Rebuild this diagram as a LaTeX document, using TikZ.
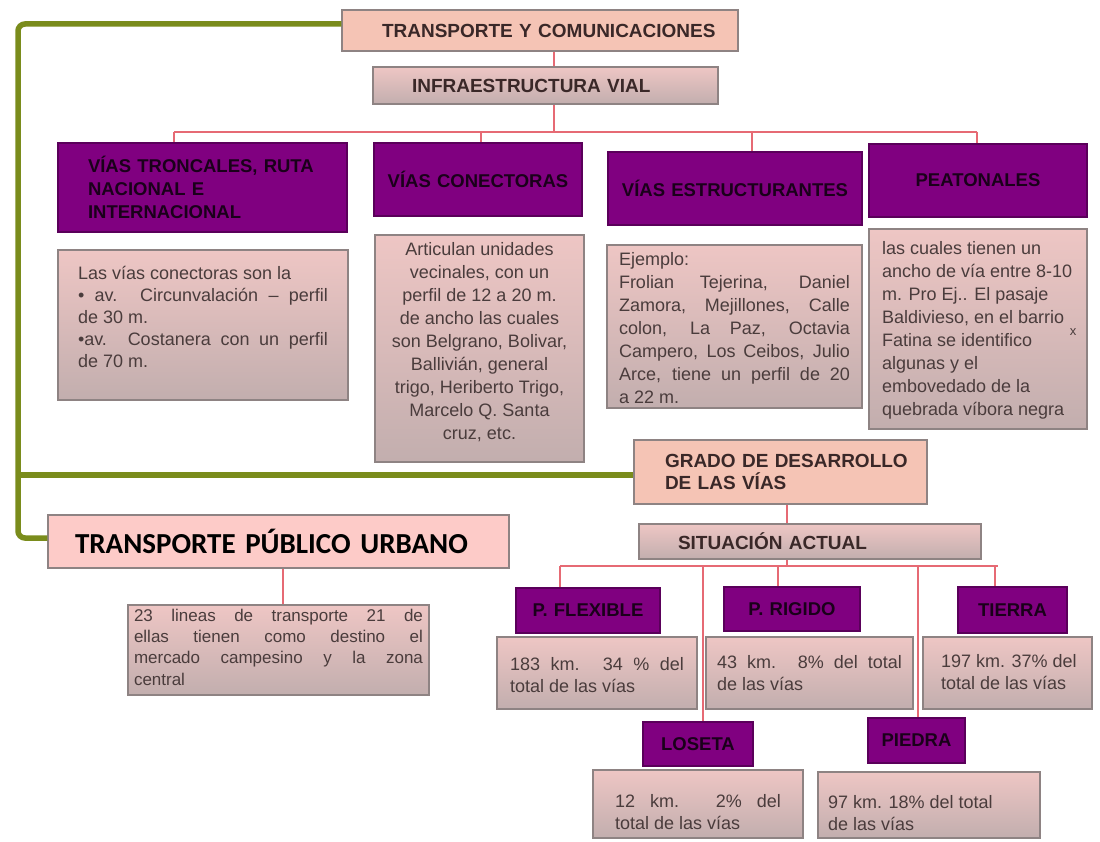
\documentclass[tikz,border=0pt]{standalone}
\usepackage{fontspec}
\setmainfont{Liberation Sans}
\newfontfamily\carlito{Carlito}
\definecolor{salmon}{HTML}{F5C4B5}
\definecolor{salmonp}{HTML}{FDCBC8}
\definecolor{bordc}{HTML}{8E8383}
\definecolor{gtop}{HTML}{EEC6C4}
\definecolor{gbot}{HTML}{C2AEAE}
\definecolor{purpc}{HTML}{800080}
\definecolor{purpd}{HTML}{5A005A}
\definecolor{ptxt}{HTML}{1A001A}
\definecolor{ttxt}{HTML}{3A2828}
\definecolor{bodytxt}{HTML}{4A3C3C}
\definecolor{redc}{HTML}{E66A74}
\definecolor{greenc}{HTML}{7A8C1C}
\newcommand\bfnt[2]{\fontsize{#1}{#2}\selectfont\hyphenpenalty10000 \exhyphenpenalty10000 }
\tikzset{
  boxbase/.style={rectangle, draw=bordc, line width=1.3pt},
  salm/.style={boxbase, fill=salmon, text=ttxt, font=\bfseries\fontsize{19}{22.5}\selectfont},
  salmp/.style={boxbase, fill=salmonp, text=black, font=\carlito\bfseries\fontsize{29}{31}\selectfont},
  grad/.style={boxbase, top color=gtop, bottom color=gbot, text=bodytxt},
  gradt/.style={grad, text=ttxt, font=\bfseries\fontsize{19}{22.5}\selectfont},
  purp/.style={rectangle, draw=purpd, line width=1.3pt, fill=purpc, font=\bfseries\fontsize{18.5}{23}\selectfont\color{ptxt}},
  rline/.style={draw=redc, line width=1.6pt},
  gline/.style={draw=greenc, line width=5.5pt, rounded corners=7pt},
}
% name, style, x1, y1, x2, y2, padx, text
\newcommand\mkbox[8]{%
  \pgfmathsetmacro\bw{#5-#3}\pgfmathsetmacro\bh{#6-#4}\pgfmathsetmacro\tw{#5-#3-2*#7}%
  \node[#2, minimum width=\bw pt, minimum height=\bh pt, text width=\tw pt, inner xsep=#7pt, inner ysep=0pt] (#1) at ({(#3+#5)/2},{(#4+#6)/2}) {#8};}
% name, x1, y1, x2, y2, padx, padtop, format, text
\newcommand\mktext[9]{%
  \pgfmathsetmacro\bw{#4-#2}\pgfmathsetmacro\bh{#5-#3}\pgfmathsetmacro\tw{#4-#2-2*#6}%
  \node[grad, minimum width=\bw pt, minimum height=\bh pt, inner sep=0pt] (#1) at ({(#2+#4)/2},{(#3+#5)/2}) {\parbox[c][\bh pt][t]{\tw pt}{\vspace*{#7pt}#8#9}};}
\begin{document}
\begin{tikzpicture}[x=1pt,y=-1pt]
\fill[white] (0,0) rectangle (1100,842);
\useasboundingbox (0,0) rectangle (1100,842);

% title boxes
\mkbox{tyc}{salm, align=left}{342}{10}{738}{51}{40}{\mbox{TRANSPORTE Y COMUNICACIONES}}
\mkbox{infra}{gradt, align=left}{373}{67}{718}{104}{39}{\mbox{INFRAESTRUCTURA VIAL}}

% purple headings
\mkbox{p1}{purp, align=left}{58}{143}{347}{232}{30}{\mbox{VÍAS TRONCALES, RUTA}\\ \mbox{NACIONAL E}\\ \mbox{INTERNACIONAL}}
\mkbox{p2}{purp, align=center}{374}{143}{582}{216}{8}{\mbox{VÍAS CONECTORAS}}
\mkbox{p3}{purp, align=center}{608}{152}{862}{225}{8}{\mbox{VÍAS ESTRUCTURANTES}}
\mkbox{p4}{purp, align=center}{869}{144}{1087}{217}{8}{\mbox{PEATONALES}}

% description boxes
\mktext{t1}{58}{250}{348}{400}{20}{16}{\bfnt{18}{22}}{Las vías conectoras son la\\ • av. Circunvalación – perfil\linebreak de 30 m.\\ •av. Costanera con un perfil\linebreak de 70 m.}
\mktext{t2}{375}{235}{584}{462}{10}{7}{\bfnt{18}{23}\centering}{Articulan unidades\\ vecinales, con un\\ perfil de 12 a 20 m.\\ de ancho las cuales\\ son Belgrano, Bolivar,\\ Ballivián, general\\ trigo, Heriberto Trigo,\\ Marcelo Q. Santa\\ cruz, etc.}
\mktext{t3}{607}{245}{862}{408}{12}{7}{\bfnt{18}{23}}{Ejemplo:\\ Frolian Tejerina, Daniel\linebreak Zamora, Mejillones, Calle\linebreak colon, La Paz, Octavia\linebreak Campero, Los Ceibos, Julio\linebreak Arce, tiene un perfil de 20\linebreak a 22 m.}
\mktext{t4}{869}{229}{1087}{429}{13}{12}{\bfnt{18}{23}\raggedright}{las cuales tienen un\\ ancho de vía entre 8-10\\ m. Pro Ej.. El pasaje\\ Baldivieso, en el barrio\\ Fatina se identifico\\ algunas y el\\ embovedado de la\\ quebrada víbora negra}
\node[text=bodytxt, font=\fontsize{13}{13}\selectfont, inner sep=0pt] (xm) at (1073,332) {x};

% lower part
\mkbox{grado}{salm, align=left}{634}{440}{927}{504}{31}{\mbox{GRADO DE DESARROLLO}\\ \mbox{DE LAS VÍAS}}
\mkbox{sit}{gradt, align=left}{639}{524}{981}{559}{39}{\mbox{SITUACIÓN ACTUAL}}
\mkbox{tpu}{salmp, align=left}{48}{515}{509}{568}{27}{\mbox{TRANSPORTE PÚBLICO URBANO}}
\mktext{tt}{128}{605}{429}{695}{6}{4}{\bfnt{17}{21.3}}{23 lineas de transporte 21 de\linebreak ellas tienen como destino el\linebreak mercado campesino y la zona\linebreak central}

\mkbox{pf}{purp, align=center}{516}{588}{660}{633}{4}{\mbox{P. FLEXIBLE}}
\mkbox{pr}{purp, align=center}{724}{587}{860}{631}{4}{\mbox{P. RIGIDO}}
\mkbox{pt}{purp, align=center}{958}{587}{1067}{633}{4}{\mbox{TIERRA}}
\mkbox{pl}{purp, align=center}{643}{722}{753}{766}{4}{\mbox{LOSETA}}
\mkbox{pp}{purp, align=center}{868}{718}{965}{763}{4}{\mbox{PIEDRA}}

\mktext{b1}{497}{637}{697}{709}{13}{20}{\bfnt{18}{22}}{183 km. 34 \% del\linebreak total de las vías}
\mktext{b2}{706}{637}{913}{709}{11}{18}{\bfnt{18}{22}}{43 km. 8\% del total\linebreak de las vías}
\mktext{b3}{923}{637}{1092}{709}{18}{17}{\bfnt{18}{22}\raggedright}{\mbox{197 km. 37\% del}\\ \mbox{total de las vías}}
\mktext{b4}{593}{770}{803}{838}{22}{24}{\bfnt{18}{22}}{12 km. 2\% del\linebreak total de las vías}
\mktext{b5}{818}{772}{1040}{838}{10}{23}{\bfnt{18}{22}\raggedright}{97 km. 18\% del total\\ de las vías}

% red connectors (upper)
\coordinate (cx1) at (554,0);
\coordinate (bl) at (174,132);
\coordinate (bm1) at (481,132);
\coordinate (bm2) at (752,132);
\coordinate (br) at (977,132);
\draw[rline] (cx1 |- tyc.south) -- (cx1 |- infra.north);
\draw[rline] (cx1 |- infra.south) -- (cx1 |- bl);
\draw[rline] (bl) -- (br);
\draw[rline] (bl) -- (bl |- p1.north);
\draw[rline] (bm1) -- (bm1 |- p2.north);
\draw[rline] (bm2) -- (bm2 |- p3.north);
\draw[rline] (br) -- (br |- p4.north);

% red connectors (lower)
\coordinate (cx2) at (787,0);
\coordinate (sl) at (560,566);
\coordinate (s2) at (703,566);
\coordinate (s3) at (778,566);
\coordinate (s4) at (918,566);
\coordinate (s5) at (995,566);
\coordinate (sr) at (998,566);
\draw[rline] (cx2 |- grado.south) -- (cx2 |- sit.north);
\draw[rline] (cx2 |- sit.south) -- (cx2 |- sl);
\draw[rline] (sl) -- (sr);
\draw[rline] (sl) -- (sl |- pf.north);
\draw[rline] (s2) -- (s2 |- pl.north);
\draw[rline] (s3) -- (s3 |- pr.north);
\draw[rline] (s4) -- (s4 |- pp.north);
\draw[rline] (s5) -- (s5 |- pt.north);
\coordinate (cx3) at (283,0);
\draw[rline] (cx3 |- tpu.south) -- (cx3 |- tt.north);

% green connectors
\coordinate (gx) at (18,300);
\coordinate (gw) at ([yshift=-3pt]grado.west);
\draw[gline] ([yshift=6.5pt]tyc.west) -| (gx) |- ([yshift=3.5pt]tpu.west);
\draw[gline] (gx |- gw) -- (gw);
\end{tikzpicture}
\end{document}
